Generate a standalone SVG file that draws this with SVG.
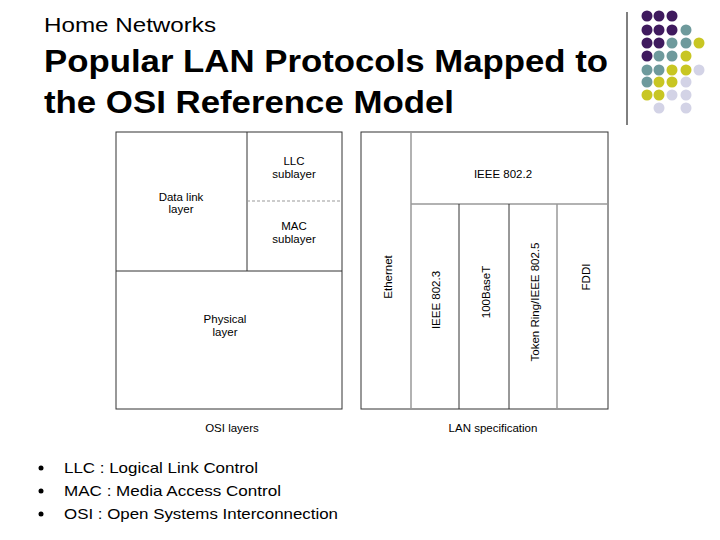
<svg xmlns="http://www.w3.org/2000/svg" width="720" height="540" viewBox="0 0 720 540">
<style>
.t{font-family:"Liberation Sans",Arial,sans-serif;fill:#000}
.s{font-family:"Liberation Sans",Arial,sans-serif;font-size:11.5px;fill:#000;text-anchor:middle}
.b{fill:none;stroke:#333;stroke-width:1}
.g{stroke:#999;stroke-width:1.5}
.P{fill:#3f1a5e}.T{fill:#6e9a9c}.Y{fill:#c8c623}.L{fill:#d3d3e6}
</style>
<rect width="720" height="540" fill="#fff"/>
<text class="t" x="44" y="32" font-size="20" textLength="172" lengthAdjust="spacingAndGlyphs">Home Networks</text>
<text class="t" x="44" y="72" font-size="32" font-weight="bold" textLength="564" lengthAdjust="spacingAndGlyphs">Popular LAN Protocols Mapped to</text>
<text class="t" x="44" y="113" font-size="32" font-weight="bold" textLength="410" lengthAdjust="spacingAndGlyphs">the OSI Reference Model</text>
<line x1="627" y1="12" x2="627" y2="125" stroke="#000"/>
<g id="dots">
<circle class="P" cx="647" cy="16" r="5.5"/><circle class="P" cx="659" cy="16" r="5.5"/><circle class="P" cx="672" cy="16" r="5.5"/>
<circle class="P" cx="647" cy="30" r="5.5"/><circle class="P" cx="659" cy="30" r="5.5"/><circle class="P" cx="672" cy="30" r="5.5"/><circle class="T" cx="686" cy="30" r="5.5"/>
<circle class="P" cx="647" cy="43" r="5.5"/><circle class="P" cx="659" cy="43" r="5.5"/><circle class="T" cx="672" cy="43" r="5.5"/><circle class="T" cx="686" cy="43" r="5.5"/><circle class="Y" cx="699" cy="43" r="5.5"/>
<circle class="P" cx="647" cy="56" r="5.5"/><circle class="T" cx="659" cy="56" r="5.5"/><circle class="T" cx="672" cy="56" r="5.5"/><circle class="Y" cx="686" cy="56" r="5.5"/>
<circle class="T" cx="647" cy="70" r="5.5"/><circle class="T" cx="659" cy="70" r="5.5"/><circle class="Y" cx="672" cy="70" r="5.5"/><circle class="Y" cx="686" cy="70" r="5.5"/><circle class="L" cx="699" cy="70" r="5.5"/>
<circle class="T" cx="647" cy="82" r="5.5"/><circle class="Y" cx="659" cy="82" r="5.5"/><circle class="Y" cx="672" cy="82" r="5.5"/><circle class="L" cx="686" cy="82" r="5.5"/>
<circle class="Y" cx="647" cy="95" r="5.5"/><circle class="Y" cx="659" cy="95" r="5.5"/><circle class="L" cx="672" cy="95" r="5.5"/><circle class="L" cx="686" cy="95" r="5.5"/>
<circle class="L" cx="659" cy="108" r="5.5"/><circle class="L" cx="686" cy="108" r="5.5"/>
</g>
<g id="osi">
<rect class="b" x="116" y="132" width="226" height="277"/>
<line class="b" x1="247" y1="132" x2="247" y2="271"/>
<line class="b" x1="116" y1="271" x2="342" y2="271"/>
<line x1="247" y1="201" x2="342" y2="201" stroke="#999" stroke-dasharray="3,2"/>
<text class="s" x="294" y="165">LLC</text><text class="s" x="294" y="178">sublayer</text>
<text class="s" x="181" y="201">Data link</text><text class="s" x="181" y="213">layer</text>
<text class="s" x="294" y="230">MAC</text><text class="s" x="294" y="243">sublayer</text>
<text class="s" x="225" y="323">Physical</text><text class="s" x="225" y="336">layer</text>
<text class="s" x="232" y="432">OSI layers</text>
</g>
<g id="lan">
<rect class="b" x="361" y="132" width="247" height="277"/>
<line class="g" x1="411" y1="132" x2="411" y2="409"/>
<line class="g" x1="411" y1="204" x2="608" y2="204"/>
<line class="b" x1="459" y1="204" x2="459" y2="409"/>
<line class="b" x1="509" y1="204" x2="509" y2="409"/>
<line class="g" x1="557" y1="204" x2="557" y2="409"/>
<text class="s" x="503" y="178">IEEE 802.2</text>
<text class="s" transform="translate(392,277) rotate(-90)">Ethernet</text>
<text class="s" transform="translate(440,300) rotate(-90)">IEEE 802.3</text>
<text class="s" transform="translate(490,292) rotate(-90)">100BaseT</text>
<text class="s" transform="translate(539,302) rotate(-90)">Token Ring/IEEE 802.5</text>
<text class="s" transform="translate(590,277) rotate(-90)">FDDI</text>
<text class="s" x="493" y="432">LAN specification</text>
</g>
<g id="bullets" class="t" font-size="15">
<circle cx="41" cy="468" r="2.5" fill="#000"/><circle cx="41" cy="491" r="2.5" fill="#000"/><circle cx="41" cy="514" r="2.5" fill="#000"/>
<text x="64" y="473" textLength="194" lengthAdjust="spacingAndGlyphs">LLC : Logical Link Control</text>
<text x="64" y="496" textLength="217" lengthAdjust="spacingAndGlyphs">MAC : Media Access Control</text>
<text x="64" y="519" textLength="274" lengthAdjust="spacingAndGlyphs">OSI : Open Systems Interconnection</text>
</g>
</svg>
